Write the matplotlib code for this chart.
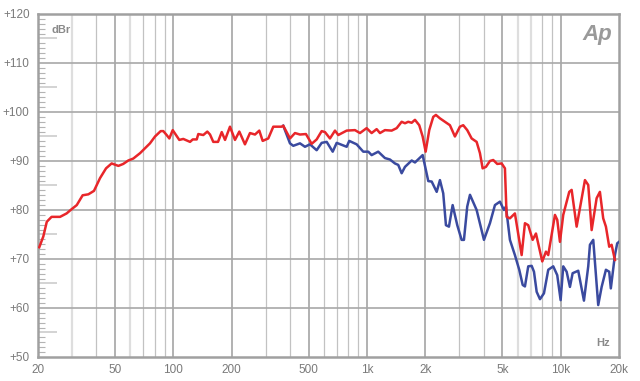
import matplotlib
matplotlib.use("Agg")
import matplotlib.pyplot as plt
from matplotlib.ticker import FixedLocator, NullLocator

plt.rcParams["font.family"] = ["Liberation Sans Narrow", "Liberation Sans", "DejaVu Sans"]

# red trace (Hz, dBr)
red_freq = [
    20.3, 21.3, 22.2, 23.5, 26.0, 28.1, 29.9, 31.7, 34.0, 36.4, 38.9, 41.8, 44.9, 48.0,
    52.0, 55.1, 58.5, 62.1, 67.3, 71.4, 75.7, 80.4, 86.0, 88.7, 92.3, 95.3, 99.2, 103.2,
    107.3, 112.5, 117.2, 121.9, 125.9, 132.0, 134.5, 142.7, 149.7, 154.6, 160.7, 170.0,
    177.7, 184.8, 196.0, 208.0, 219.0, 234.2, 248.6, 263.9, 277.7, 289.1, 309.0, 328.0,
    362.4, 369.3, 400.0, 424.5, 450.5, 483.6, 517.6, 549.4, 583.1, 606.4, 643.5, 683.1,
    710.4, 784.9, 866.2, 919.2, 995.0, 1056, 1121, 1166, 1237, 1340, 1422, 1509, 1570,
    1632, 1700, 1768, 1860, 1937, 2007, 2095, 2197, 2268, 2379, 2524, 2679, 2843, 3017,
    3138, 3291, 3468, 3680, 3828, 3952, 4111, 4311, 4483, 4702, 4955, 5152, 5258, 5468,
    5801, 6285, 6536, 6798, 7163, 7451, 8030, 8391, 8623, 9338, 9596, 9910, 10305, 11068,
    11388, 12085, 13340, 13873, 14446, 15326, 15937, 16574, 17118, 17802, 18318, 19051,
]
red_db = [
    72.4, 74.6, 77.6, 78.6, 78.6, 79.3, 80.2, 81.0, 83.0, 83.2, 83.9, 86.5, 88.5, 89.5,
    89.0, 89.4, 90.1, 90.5, 91.6, 92.6, 93.6, 95.0, 96.1, 96.1, 95.3, 94.6, 96.3, 95.3,
    94.3, 94.5, 94.2, 93.9, 94.4, 94.4, 95.5, 95.3, 96.0, 95.4, 93.9, 93.9,
    95.9, 94.3, 97.0, 94.3, 96.0, 93.4, 95.7, 95.4, 96.2, 94.1, 94.6, 97.0,
    97.0, 97.2, 94.6, 95.7, 95.4, 95.5, 93.5, 94.4, 96.1, 95.9, 94.6, 96.2,
    95.3, 96.2, 96.3, 95.7, 96.7, 95.7, 96.5, 95.7, 96.3, 96.2, 96.7, 98.0, 97.7,
    98.0, 97.8, 98.4, 97.3, 95.0, 91.9, 96.3, 99.0, 99.4, 98.7, 98.0, 97.3, 95.0, 97.0,
    97.3, 96.3, 94.6, 93.9, 91.6, 88.5, 88.8, 90.0, 90.2, 89.4, 89.5, 88.5, 78.6, 78.3,
    79.3, 70.8, 77.3, 76.9, 73.9, 75.2, 69.5, 71.5, 70.8, 79.0, 78.0, 73.5, 79.0, 83.7,
    84.1, 76.6, 86.1, 85.1, 75.9, 82.4, 83.7, 78.3, 76.6, 72.5, 72.9, 69.8,
]

# blue trace (Hz, dBr), same as red below ~370 Hz
blue_freq = [
    369.3, 400.0, 416.0, 450.5, 478.0, 507.3, 549.4, 583.1, 619.0, 664.8, 697.0, 739.7,
    784.9, 809.3, 883.8, 955.9, 1015, 1056, 1142, 1237, 1313, 1393, 1449, 1509, 1570,
    1700, 1768, 1937, 2071, 2157, 2289, 2379, 2474, 2555, 2648, 2767, 2923, 3079, 3165,
    3291, 3400, 3680, 4015, 4311, 4575, 4855, 5092, 5214, 5468, 5801, 6108, 6364, 6536,
    6798, 7080, 7277, 7514, 7815, 8194, 8623, 9150, 9596, 9992, 10305, 10731, 11159,
    11523, 12316, 13182, 13873, 14156, 14723, 15620, 16269, 17118, 17802, 18146, 19051,
    19580, 20000,
]
blue_db = [
    97.2, 93.6, 93.1, 93.6, 92.9, 93.4, 92.2, 93.7, 93.9, 91.9, 93.7, 93.3,
    92.9, 94.1, 93.4, 91.9, 91.9, 91.2, 91.9, 90.6, 90.3, 89.5, 89.2, 87.5, 88.8,
    90.1, 89.7, 91.2, 85.9, 85.8, 83.7, 86.1, 83.4, 76.9, 76.6, 81.0, 76.9, 73.9, 73.9,
    80.7, 83.1, 80.0, 73.9, 77.3, 81.0, 81.7, 80.0, 80.7, 73.9, 70.8, 67.8, 64.7, 64.4,
    68.5, 68.6, 67.4, 63.3, 61.8, 63.0, 67.8, 68.5, 66.7, 61.6, 68.5, 67.4, 64.3,
    67.1, 67.6, 61.5, 68.5, 72.9, 73.9, 60.6, 64.3, 67.8, 67.4, 64.0, 70.8,
    73.2, 73.5,
]

x_ticks = [20, 50, 100, 200, 500, 1000, 2000, 5000, 10000, 20000]
x_labels = ["20", "50", "100", "200", "500", "1k", "2k", "5k", "10k", "20k"]
y_ticks = [50, 60, 70, 80, 90, 100, 110, 120]
y_labels = ["+50", "+60", "+70", "+80", "+90", "+100", "+110", "+120"]

grid_dark = [50, 100, 200, 500, 1000, 2000, 5000, 10000]
grid_mid = [40, 70, 80, 90, 300, 400, 600, 700, 800, 900, 3000, 4000, 8000, 9000]
grid_light = [30, 60, 6000, 7000]

fig = plt.figure(figsize=(6.4, 3.81), dpi=100)
ax = fig.add_axes([0.0594, 0.063, 0.9078, 0.9003])
ax.set_xscale("log")
ax.set_xlim(20, 20000)
ax.set_ylim(50, 120)

for f in grid_light:
    ax.axvline(f, color="#dedede", lw=1.6, zorder=1)
for f in grid_mid:
    ax.axvline(f, color="#c2c2c2", lw=0.9, zorder=1)
for f in grid_dark:
    ax.axvline(f, color="#a4a4a4", lw=1.2, zorder=1)
for v in y_ticks[1:-1]:
    ax.axhline(v, color="#a8a8a8", lw=1.2, zorder=1)

# short marks along the left edge
for v in range(51, 120):
    if v % 10 == 0:
        continue
    if v % 5 == 0:
        ax.plot([20, 20 * 10 ** (19 / 193.7)], [v, v], color="#cccccc", lw=1.2,
                solid_capstyle="butt", zorder=2)
    else:
        ax.plot([20, 20 * 10 ** (7 / 193.7)], [v, v], color="#b4b4b4", lw=0.8,
                solid_capstyle="butt", zorder=2)

ax.plot(blue_freq, blue_db, color="#3a4a9f", lw=1.8, zorder=3)
ax.plot(red_freq, red_db, color="#e8262a", lw=1.8, zorder=4)

ax.xaxis.set_major_locator(FixedLocator(x_ticks))
ax.xaxis.set_minor_locator(NullLocator())
ax.set_xticklabels(x_labels)
ax.set_yticks(y_ticks)
ax.set_yticklabels(y_labels)
ax.tick_params(length=0, labelsize=8.5, labelcolor="#7a7a7a")
ax.tick_params(axis="x", pad=5)
ax.tick_params(axis="y", pad=6)

for s in ax.spines.values():
    s.set_color("#a0a0a0")
    s.set_linewidth(1.8)

ax.text(0.024, 0.968, "dBr", transform=ax.transAxes, fontsize=8, color="#8a8a8a",
        fontweight="bold", va="top", ha="left")
ax.text(0.985, 0.025, "Hz", transform=ax.transAxes, fontsize=8, color="#8a8a8a",
        fontweight="bold", va="bottom", ha="right")
ax.text(0.988, 0.972, "Ap", transform=ax.transAxes, fontsize=16, color="#9a9a9a",
        fontweight="bold", fontstyle="italic", va="top", ha="right",
        family=["Liberation Sans", "DejaVu Sans"])

fig.savefig("out.png", dpi=100)
